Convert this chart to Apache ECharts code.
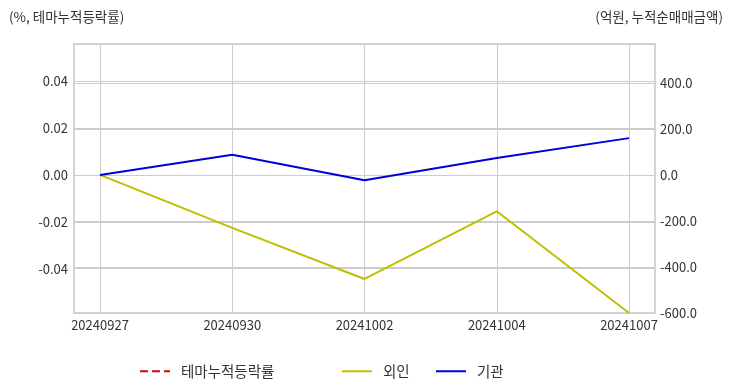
<!DOCTYPE html>
<html><head><meta charset="utf-8">
<script src="https://cdn.jsdelivr.net/npm/echarts@6/dist/echarts.min.js"></script>
<style>html,body{margin:0;padding:0;background:#fff}#c{width:732px;height:392px}</style>
</head><body><div id="c"></div>
<script>
const categories = ['20240927','20240930','20241002','20241004','20241007'];
const themeRate = [null, null, null, null, null];
const foreign = [0, -230, -452, -158, -600];
const institution = [0, 88, -23, 74, 160];
const leftRange = [-0.0589, 0.0559];
const rightRange = [-600, 569];
const FONT = '"Noto Sans CJK KR", "Noto Sans", sans-serif';

const chart = echarts.init(document.getElementById('c'), null, {renderer:'canvas'});
const gridLine = {show:true, lineStyle:{color:'#cccccc', width:1}};
const legendText = {color:'#333', fontSize:14.5, padding:[0,0,0,6], fontFamily:FONT};
chart.setOption({
  animation:false,
  textStyle:{fontFamily:FONT},
  title:[
    {text:'(%, 테마누적등락률)', left:4, top:5, textStyle:{fontSize:13.5, fontWeight:'normal', color:'#333', fontFamily:FONT}},
    {text:'(억원, 누적순매매금액)', right:4, top:5, textStyle:{fontSize:13.5, fontWeight:'normal', color:'#333', fontFamily:FONT}}
  ],
  grid:[
    {left:74, right:77, top:44, bottom:79, show:true, borderColor:'#d4d4d4', borderWidth:2, backgroundColor:'transparent'},
    {left:100, right:103, top:44, bottom:79}
  ],
  xAxis:[
    {gridIndex:0, type:'value', show:false, min:0, max:1},
    {gridIndex:1, type:'category', data:categories, boundaryGap:false,
     axisLine:{show:false}, axisTick:{show:false}, splitLine:gridLine,
     axisLabel:{color:'#333', fontSize:13, margin:6, fontFamily:FONT}}
  ],
  yAxis:[
    {gridIndex:0, type:'value', position:'left', min:leftRange[0], max:leftRange[1],
     axisLine:{show:false}, axisTick:{show:false}, splitLine:gridLine,
     axisLabel:{color:'#333', fontSize:13, margin:6, showMinLabel:false, showMaxLabel:false,
       formatter:v=>v.toFixed(2), fontFamily:FONT}},
    {gridIndex:0, type:'value', position:'right', min:rightRange[0], max:rightRange[1],
     axisLine:{show:false}, axisTick:{show:false}, splitLine:gridLine,
     axisLabel:{color:'#333', fontSize:13, margin:5, showMinLabel:true, showMaxLabel:false,
       formatter:v=>v.toFixed(1), fontFamily:FONT}},
    {gridIndex:1, type:'value', show:false, min:leftRange[0], max:leftRange[1], splitLine:{show:false}},
    {gridIndex:1, type:'value', show:false, min:rightRange[0], max:rightRange[1], splitLine:{show:false}}
  ],
  legend:[
    {data:['테마누적등락률'], left:134, top:359, itemWidth:30, itemHeight:14, itemStyle:{opacity:0}, textStyle:legendText},
    {data:['외인'], left:336, top:359, itemWidth:30, itemHeight:14, itemStyle:{opacity:0}, textStyle:legendText},
    {data:['기관'], left:430, top:359, itemWidth:30, itemHeight:14, itemStyle:{opacity:0}, textStyle:legendText}
  ],
  series:[
    {name:'테마누적등락률', type:'line', xAxisIndex:1, yAxisIndex:2, data:themeRate, symbol:'none',
     lineStyle:{color:'#e00000', width:2, type:'dashed'}, itemStyle:{color:'#e00000'}},
    {name:'외인', type:'line', xAxisIndex:1, yAxisIndex:3, data:foreign, symbol:'none',
     lineStyle:{color:'#bfbf00', width:2}, itemStyle:{color:'#bfbf00'}},
    {name:'기관', type:'line', xAxisIndex:1, yAxisIndex:3, data:institution, symbol:'none',
     lineStyle:{color:'#0000dd', width:2}, itemStyle:{color:'#0000dd'}}
  ]
});
</script></body></html>
